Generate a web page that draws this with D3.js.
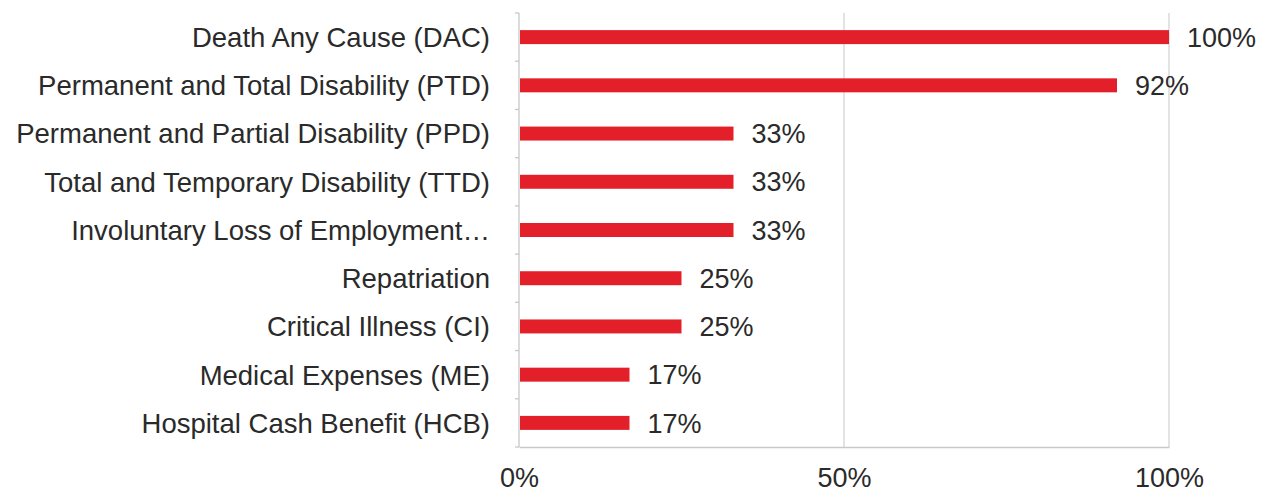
<!DOCTYPE html>
<html><head><meta charset="utf-8">
<script src="https://cdn.jsdelivr.net/npm/d3@7/dist/d3.min.js"></script>
<style>body{margin:0;background:#fff}text{font-family:"Liberation Sans",Arial,sans-serif}</style>
</head><body><svg id="c" width="1271" height="496"></svg>
<script>
const categories = ["Death Any Cause (DAC)","Permanent and Total Disability (PTD)","Permanent and Partial Disability (PPD)","Total and Temporary Disability (TTD)","Involuntary Loss of Employment\u2026","Repatriation","Critical Illness (CI)","Medical Expenses (ME)","Hospital Cash Benefit (HCB)"];
const values = [100,92,33,33,33,25,25,17,17];
const xTicks = [0,50,100];

(function(){
const svg = d3.select("#c");
const mL = 519, mR = 1169, mT = 13, mB = 447;
const x = d3.scaleLinear().domain([0,100]).range([mL,mR]);
const y = d3.scaleBand().domain(categories).range([mT,mB]).paddingInner(0.71).paddingOuter(0.355);
const txt = "#2a2a2a";

// gridlines
svg.append("g").selectAll("line").data(xTicks.filter(d=>d>0)).join("line")
  .attr("x1",d=>x(d)).attr("x2",d=>x(d)).attr("y1",mT).attr("y2",mB)
  .attr("stroke","#d4d4d4").attr("stroke-width",1.3);

// x axis
const xa = svg.append("g").attr("transform",`translate(0,${mB})`)
  .call(d3.axisBottom(x).tickValues(xTicks).tickFormat(d=>d+"%").tickSize(0).tickPadding(21));
xa.select(".domain").attr("stroke","#c8c8c8").attr("stroke-width",1.3);
xa.selectAll("text").attr("font-size",27).attr("fill",txt).style("font-family","Liberation Sans, Arial, sans-serif");

// y axis
const boundaries = d3.range(categories.length+1).map(i=>mT + i*(mB-mT)/categories.length);
svg.append("line").attr("x1",mL).attr("x2",mL).attr("y1",mT).attr("y2",mB)
  .attr("stroke","#c8c8c8").attr("stroke-width",1.3);
svg.append("g").selectAll("line").data(boundaries).join("line")
  .attr("x1",mL-4).attr("x2",mL).attr("y1",d=>d).attr("y2",d=>d)
  .attr("stroke","#c8c8c8").attr("stroke-width",1.3);
svg.append("g").selectAll("text").data(categories).join("text")
  .attr("x",490).attr("y",d=>y(d)+y.bandwidth()/2).attr("dy","0.36em")
  .attr("text-anchor","end").attr("font-size",27.5).attr("fill",txt).text(d=>d);

// bars
svg.append("g").selectAll("rect").data(values).join("rect")
  .attr("x",x(0)+1).attr("y",(d,i)=>y(categories[i]))
  .attr("width",d=>x(d)-x(0)-1).attr("height",y.bandwidth())
  .attr("fill","#e3202a");

// value labels
svg.append("g").selectAll("text").data(values).join("text")
  .attr("x",d=>x(d)+18).attr("y",(d,i)=>y(categories[i])+y.bandwidth()/2).attr("dy","0.36em")
  .attr("font-size",27).attr("fill",txt).text(d=>d+"%");
})();
</script></body></html>
